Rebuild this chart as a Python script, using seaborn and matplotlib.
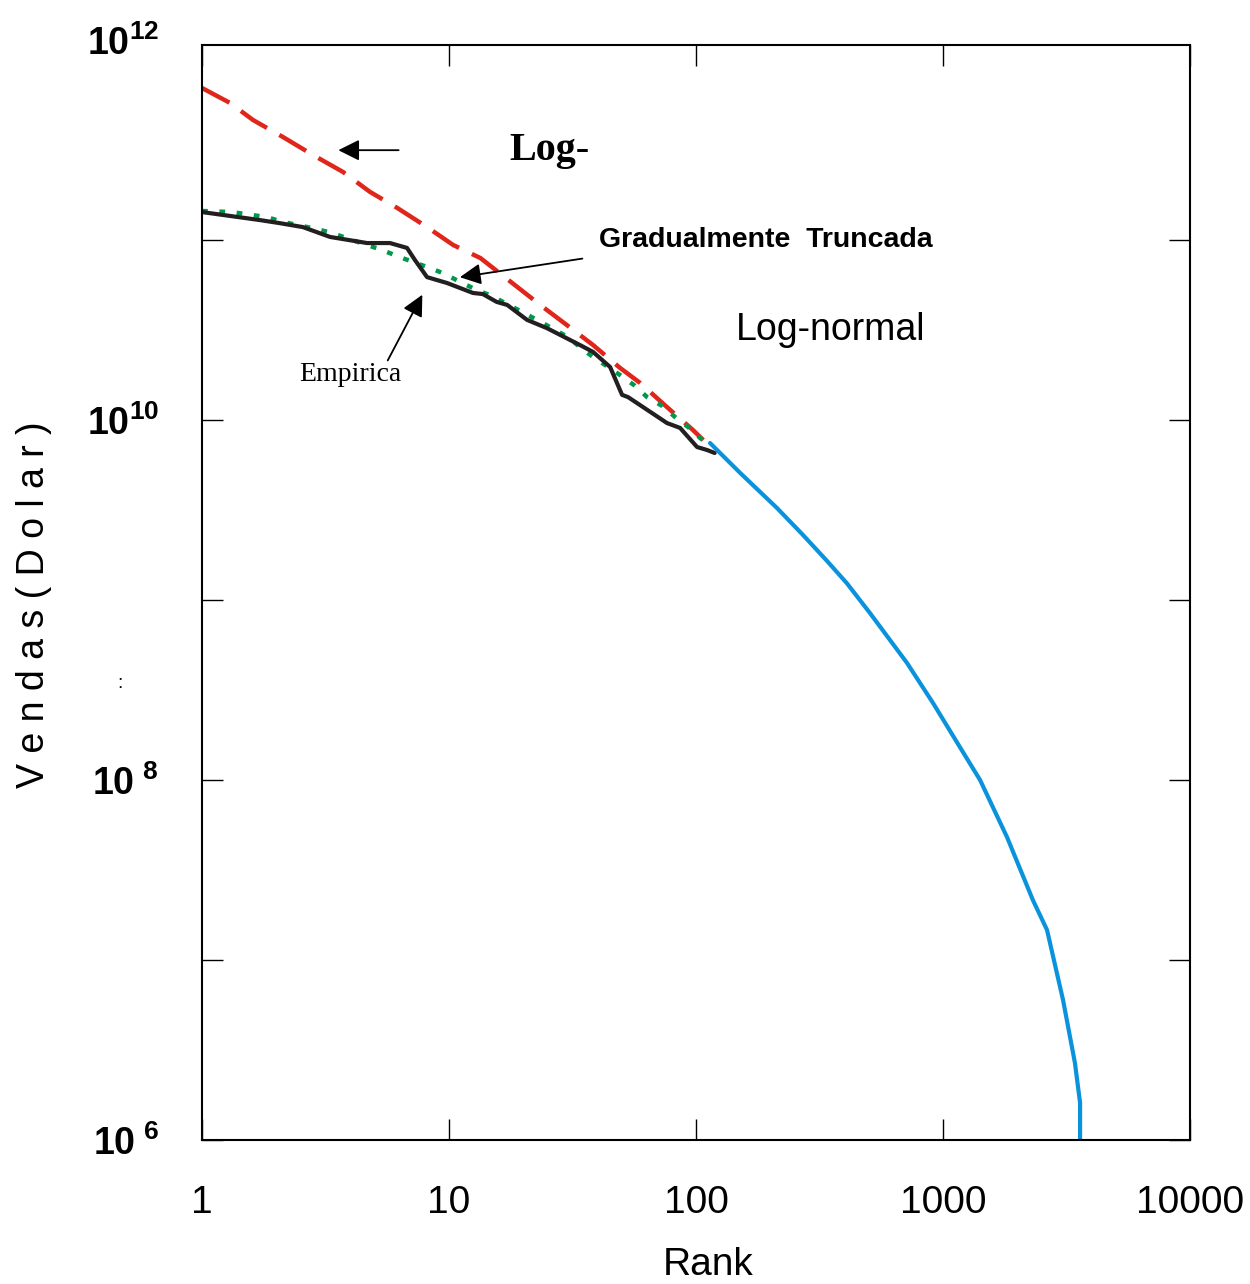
import matplotlib
matplotlib.use("Agg")
import matplotlib.pyplot as plt
import matplotlib.transforms as mtransforms
import seaborn as sns

# ─── Data ─────────────────────────────────────────────────────────────────────
RANK_EMP = [1.0, 1.72, 2.07, 2.56, 3.30, 4.66, 5.77, 6.76, 7.28, 8.15, 9.82,
            12.5, 13.7, 15.6, 17.2, 20.7, 24.9, 33.9, 38.3, 44.9, 50.2, 53.1,
            63.4, 76.3, 86.2, 101, 111, 119]
SALES_EMP = [143e9, 129e9, 124e9, 118e9, 104e9, 96.2e9, 96.2e9, 90.4e9, 77.4e9,
             62.2e9, 57.7e9, 50.8e9, 50.1e9, 45.3e9, 43.6e9, 36.0e9, 32.4e9,
             26.1e9, 23.9e9, 19.7e9, 13.8e9, 13.4e9, 11.4e9, 9.62e9, 9.04e9,
             7.08e9, 6.81e9, 6.56e9]

RANK_TRUNC = [1.0, 1.32, 1.83, 2.13, 2.92, 3.39, 3.97, 4.66, 5.36, 6.16, 7.15,
              8.38, 9.64, 11.1, 13.0, 14.9, 19.8, 22.7, 26.1, 30.3, 33.9, 38.3,
              49.2, 56.6, 63.4, 72.8, 82.2, 92.9, 104, 114]
SALES_TRUNC = [145e9, 143e9, 134e9, 126e9, 115e9, 109e9, 101e9, 93.8e9, 88.0e9,
               81.5e9, 75.5e9, 69.9e9, 64.7e9, 58.4e9, 52.7e9, 48.9e9, 39.8e9,
               36.0e9, 32.4e9, 28.9e9, 25.4e9, 22.4e9, 17.8e9, 15.5e9, 13.4e9,
               12.0e9, 10.4e9, 9.15e9, 7.94e9, 7.26e9]

RANK_LOGX = [1.0, 1.30, 1.61, 2.13, 2.81, 3.72, 4.79, 6.16, 8.15, 10.4, 13.4,
             23.4, 30.0, 38.3, 49.2, 59.3, 76.3, 97.2, 107]
SALES_LOGX = [699e9, 577e9, 464e9, 373e9, 297e9, 239e9, 185e9, 151e9, 118e9,
              93.8e9, 79.4e9, 43.6e9, 33.7e9, 26.1e9, 19.5e9, 16.1e9, 11.8e9,
              8.80e9, 7.74e9]

RANK_LOGN = [114, 151, 213, 271, 339, 408, 506, 715, 911, 1172, 1413, 1816,
             2313, 2637, 3062, 3421, 3589, 3589]
SALES_LOGN = [7.45e9, 5.08e9, 3.24e9, 2.30e9, 1.65e9, 1.24e9, 8.47e8, 4.47e8,
              2.68e8, 1.52e8, 1.0e8, 4.82e7, 2.15e7, 1.47e7, 6.0e6, 2.68e6,
              1.61e6, 0.98e6]

X_TICKS = [1, 10, 100, 1000, 10000]
X_TICKLABELS = ["1", "10", "100", "1000", "10000"]
Y_MAJOR = [1e6, 1e8, 1e10, 1e12]
Y_MINOR = [1e7, 1e9, 1e11]
Y_TICKLABELS = [r"$\mathbf{10}^{\ \mathbf{6}}$", r"$\mathbf{10}^{\ \mathbf{8}}$",
                r"$\mathbf{10^{10}}$", r"$\mathbf{10^{12}}$"]

# ─── Style ────────────────────────────────────────────────────────────────────
sns.set_style("ticks")
plt.rcParams["font.family"] = ["Liberation Sans", "DejaVu Sans"]
plt.rcParams["mathtext.fontset"] = "custom"
plt.rcParams["mathtext.rm"] = "Liberation Sans"
plt.rcParams["mathtext.bf"] = "Liberation Sans:bold"
for key in ["text.color", "axes.labelcolor", "xtick.color", "ytick.color"]:
    plt.rcParams[key] = "black"

fig = plt.figure(figsize=(12.5, 12.84), dpi=100)
ax = fig.add_axes([0.1616, 0.1121, 0.7904, 0.8528])
ax.set_xscale("log")
ax.set_yscale("log")

sns.lineplot(x=RANK_LOGX, y=SALES_LOGX, ax=ax, color="#e0251b", lw=3.2,
             estimator=None, sort=False, linestyle=(0, (7, 3.2)))
sns.lineplot(x=RANK_TRUNC, y=SALES_TRUNC, ax=ax, color="#00994c", lw=3.2,
             estimator=None, sort=False, linestyle=(0, (1.3, 2.6)))
sns.lineplot(x=RANK_EMP, y=SALES_EMP, ax=ax, color="#231f20", lw=3,
             estimator=None, sort=False)
sns.lineplot(x=RANK_LOGN, y=SALES_LOGN, ax=ax, color="#0a93dc", lw=3,
             estimator=None, sort=False)

ax.set_xlim(1, 10000)
ax.set_ylim(1e6, 10 ** 12.083)

# ticks
ax.set_xticks(X_TICKS)
ax.set_xticklabels(X_TICKLABELS)
ax.xaxis.set_minor_locator(matplotlib.ticker.NullLocator())
ax.set_yticks(Y_MAJOR)
ax.set_yticklabels(Y_TICKLABELS)
ax.set_yticks(Y_MINOR, minor=True)
ax.yaxis.set_minor_formatter(matplotlib.ticker.NullFormatter())
ax.tick_params(axis="both", which="both", direction="in", length=15, width=1,
               top=True, right=True, color="black")
ax.tick_params(axis="x", labelsize=28, pad=32)
ax.tick_params(axis="y", labelsize=27, pad=31)

# hide the 1e12 tick marks, nudge its label upward
top_tick = ax.yaxis.get_major_ticks()[-1]
top_tick.tick1line.set_visible(False)
top_tick.tick2line.set_visible(False)
offset = mtransforms.ScaledTranslation(0, 20 / 100, fig.dpi_scale_trans)
top_tick.label1.set_transform(top_tick.label1.get_transform() + offset)

for spine in ax.spines.values():
    spine.set_linewidth(1.5)
    spine.set_color("black")

ax.set_xlabel("Rank", fontsize=28, va="center", ha="center")
ax.xaxis.set_label_coords(0.512, -0.114)
ax.set_ylabel("V e n d a s ( D o l a r )", fontsize=27, va="center", ha="center")
ax.yaxis.set_label_coords(-0.170, 0.489)

# annotations
arrow = dict(arrowstyle="-|>", color="black", lw=1.3, mutation_scale=32,
             shrinkA=0, shrinkB=0)
ax.annotate("", xy=(0.138, 0.904), xytext=(0.199, 0.904),
            xycoords="axes fraction", arrowprops=arrow)
ax.text(0.352, 0.904, "Log-", transform=ax.transAxes, fontsize=29,
        fontweight="bold", family="Liberation Serif", ha="center", va="center")
ax.annotate("", xy=(0.261, 0.788), xytext=(0.385, 0.805),
            xycoords="axes fraction", arrowprops=arrow)
ax.text(0.571, 0.822, "Gradualmente  Truncada", transform=ax.transAxes,
        fontsize=20.5, fontweight="bold", ha="center", va="center")
ax.annotate("", xy=(0.223, 0.772), xytext=(0.188, 0.712),
            xycoords="axes fraction", arrowprops=arrow)
ax.text(0.150, 0.699, "Empirica", transform=ax.transAxes, fontsize=20,
        family="Liberation Serif", ha="center", va="center")
ax.text(0.636, 0.740, "Log-normal", transform=ax.transAxes, fontsize=27,
        ha="center", va="center")
ax.text(-0.083, 0.417, ":", transform=ax.transAxes, fontsize=14,
        ha="center", va="center")

fig.savefig("out.png", dpi=100)
plt.close(fig)
